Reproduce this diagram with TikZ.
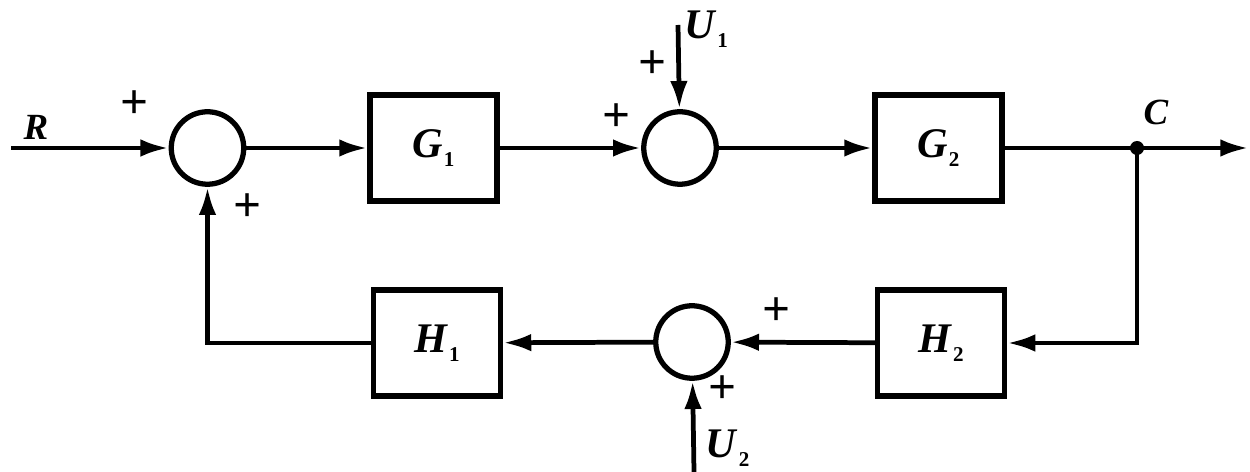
\documentclass[tikz,border=0pt]{standalone}
\usepackage{fontspec}
\setmainfont{Liberation Serif}
\usetikzlibrary{arrows.meta}
\newcommand{\sig}[2]{\textbf{\textit{#1}}\kern0.5pt\raisebox{-0.45ex}{\fontsize{12}{12}\selectfont\bfseries #2}}

\begin{document}
\begin{tikzpicture}
\tikzset{block/.style={draw,line width=3pt,minimum width=2.54cm,minimum height=2.12cm,font=\fontsize{24}{24}\selectfont}}
\tikzset{sum/.style={draw,circle,line width=3pt,minimum size=1.45cm,inner sep=0pt}}
\tikzset{wire/.style={line width=2.7pt}}
\tikzset{arr/.style={wire,-{Latex[length=16pt,width=10pt]}}}
\tikzset{sign/.style={font=\fontsize{28}{28}\selectfont\bfseries}}
\tikzset{lbl/.style={font=\fontsize{21}{21}\selectfont\bfseries\itshape}}

\useasboundingbox (0,0) rectangle (25,9.44);

% forward path
\node[sum] (s1) at (4.15,6.48) {};
\node[block] (g1) at (8.67,6.48) {\sig{G}{1}};
\node[sum] (s2) at (13.6,6.48) {};
\node[block] (g2) at (18.77,6.48) {\sig{G}{2}};
\coordinate (in) at (0.22,6.48);
\coordinate (c) at (22.74,6.48);
\coordinate (out) at (24.97,6.48);
\coordinate (u1) at (13.56,8.94);

% feedback path
\node[block] (h2) at (18.82,2.58) {\sig{H}{2}};
\node[sum] (s3) at (13.84,2.6) {};
\node[block] (h1) at (8.74,2.58) {\sig{H}{1}};
\coordinate (u2) at (13.88,0);

\draw[arr] (in) -- (s1);
\draw[arr] (s1) -- (g1);
\draw[arr] (g1) -- (s2);
\draw[arr] (s2) -- (g2);
\draw[arr] (g2) -- (out);
\draw[arr] (u1) -- (s2);
\draw[arr] (c) |- (h2);
\draw[arr] (h2) -- (s3);
\draw[arr] (s3) -- (h1);
\draw[arr] (u2) -- (s3);
\draw[arr] (h1) -| (s1);
\fill (c) circle (0.14);

% labels and signs
\node[lbl] (r) at (0.72,6.9) {R};
\node[lbl] (cl) at (23.12,7.2) {C};
\node[font=\fontsize{24}{24}\selectfont] (u1l) at (14.12,8.86) {\sig{U}{1}};
\node[font=\fontsize{24}{24}\selectfont] (u2l) at (14.55,0.48) {\sig{U}{2}};
\node[sign] (p1) at (2.7,7.34) {+};
\node[sign] (p2) at (4.96,5.28) {+};
\node[sign] (p3) at (12.34,7.08) {+};
\node[sign] (p4) at (13.06,8.14) {+};
\node[sign] (p5) at (15.54,3.2) {+};
\node[sign] (p6) at (14.46,1.64) {+};
\end{tikzpicture}
\end{document}
